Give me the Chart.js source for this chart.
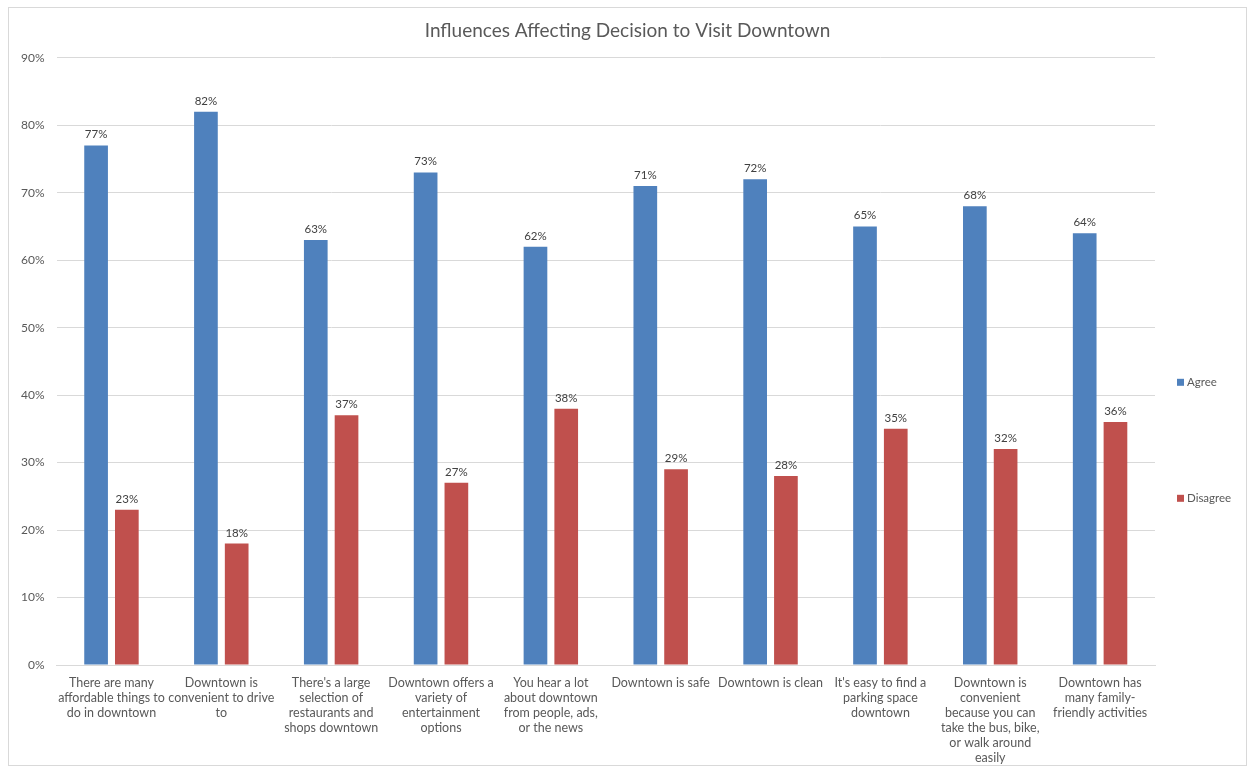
<!DOCTYPE html>
<html>
<head>
<meta charset="utf-8">
<script src="https://cdn.jsdelivr.net/npm/chart.js@4"></script>
<style>
  body { margin: 0; background: #fff; }
  #wrap { position: absolute; left: 8px; top: 7px; width: 1237px; height: 757px; border: 1px solid #d9d9d9; }
</style>
</head>
<body>
<div id="wrap"><canvas id="myChart"></canvas></div>
<script>
var categories = [
  ['There are many', 'affordable things to', 'do in downtown'],
  ['Downtown is', 'convenient to drive', 'to'],
  ["There's a large", 'selection of', 'restaurants and', 'shops downtown'],
  ['Downtown offers a', 'variety of', 'entertainment', 'options'],
  ['You hear a lot', 'about downtown', 'from people, ads,', 'or the news'],
  ['Downtown is safe'],
  ['Downtown is clean'],
  ["It's easy to find a", 'parking space', 'downtown'],
  ['Downtown is', 'convenient', 'because you can', 'take the bus, bike,', 'or walk around', 'easily'],
  ['Downtown has', 'many family-', 'friendly activities']
];
var agree = [77, 82, 63, 73, 62, 71, 72, 65, 68, 64];
var disagree = [23, 18, 37, 27, 38, 29, 28, 35, 32, 36];
var yMax = 90;
var yStep = 10;

var textGrey = '#595959';

// percentage labels sitting on top of each bar
var barValueLabels = {
  id: 'barValueLabels',
  afterDatasetsDraw: function(chart) {
    var ctx = chart.ctx;
    ctx.save();
    ctx.font = '11.5px Lato';
    ctx.fillStyle = '#404040';
    ctx.textAlign = 'center';
    ctx.textBaseline = 'bottom';
    chart.data.datasets.forEach(function(ds, i) {
      chart.getDatasetMeta(i).data.forEach(function(bar, j) {
        ctx.fillText(ds.data[j] + '%', bar.x, bar.y - 5);
      });
    });
    ctx.restore();
  }
};

// legend to the right of the plot, items spread apart vertically
var sideLegend = {
  id: 'sideLegend',
  afterDraw: function(chart) {
    var ctx = chart.ctx;
    var area = chart.chartArea;
    ctx.save();
    ctx.font = '11.5px Lato';
    ctx.textBaseline = 'middle';
    chart.data.datasets.forEach(function(ds, i) {
      var x = area.right + 22;
      var y = area.top + 324 + i * 116;
      ctx.fillStyle = ds.backgroundColor;
      ctx.fillRect(x, y - 3, 7, 7);
      ctx.fillStyle = textGrey;
      ctx.fillText(ds.label, x + 10, y);
    });
    ctx.restore();
  }
};

var ctx = document.getElementById('myChart').getContext('2d');
var chart = new Chart(ctx, {
  type: 'bar',
  data: {
    labels: categories,
    datasets: [{
      label: 'Agree',
      backgroundColor: '#4F81BD',
      data: agree
    }, {
      label: 'Disagree',
      backgroundColor: '#C0504D',
      data: disagree
    }]
  },
  options: {
    responsive: true,
    maintainAspectRatio: false,
    animation: false,
    categoryPercentage: 0.56,
    barPercentage: 0.77,
    layout: {
      padding: { left: 0, right: 0, top: 0, bottom: -10 }
    },
    plugins: {
      legend: { display: false },
      tooltip: { enabled: false },
      title: {
        display: true,
        text: 'Influences Affecting Decision to Visit Downtown',
        color: textGrey,
        font: { family: 'Lato', size: 19, weight: 'normal' },
        padding: { top: 11, bottom: 16 }
      }
    },
    scales: {
      x: {
        grid: { display: false, drawTicks: false },
        border: { color: '#d9d9d9' },
        ticks: {
          color: textGrey,
          font: { family: 'Lato', size: 12.5, lineHeight: 1.2 },
          padding: 10,
          maxRotation: 0,
          autoSkip: false
        }
      },
      y: {
        min: 0,
        max: yMax,
        grid: { color: '#d9d9d9', drawTicks: false },
        border: { display: false },
        ticks: {
          stepSize: yStep,
          color: textGrey,
          font: { family: 'Lato', size: 12 },
          padding: 12,
          callback: function(v) { return v + '%'; }
        }
      },
      // empty axis on the right keeps room for the legend
      legendSpace: {
        position: 'right',
        grid: { display: false, drawTicks: false },
        border: { display: false },
        ticks: { display: false },
        afterFit: function(scale) { scale.width = 91; }
      }
    }
  },
  plugins: [barValueLabels, sideLegend]
});
</script>
</body>
</html>
